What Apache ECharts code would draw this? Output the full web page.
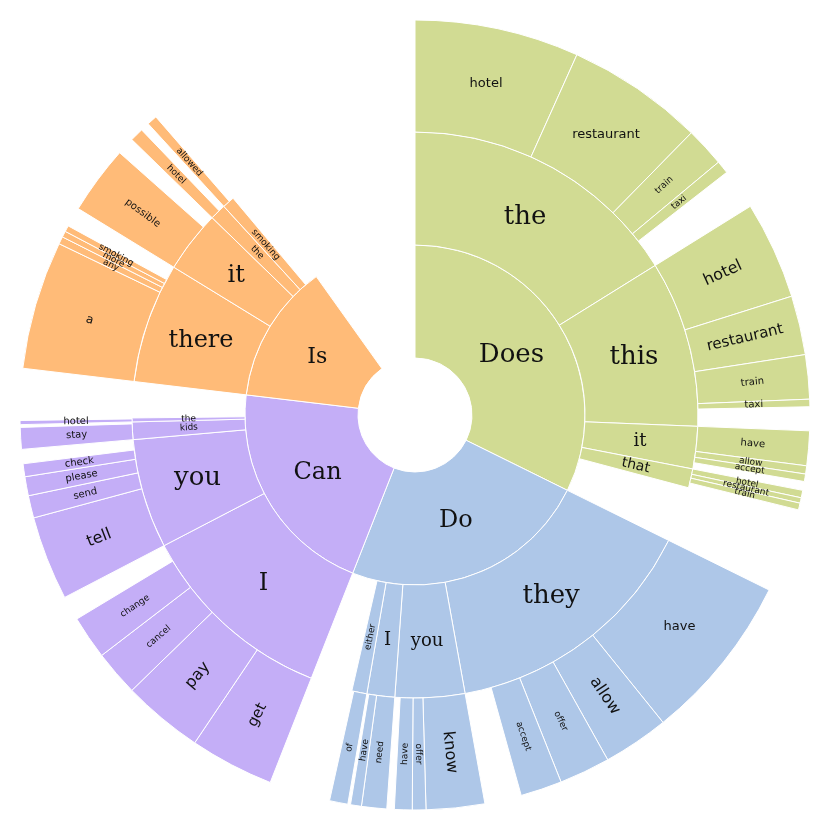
<!DOCTYPE html>
<html>
<head>
<meta charset="utf-8">
<script src="https://cdn.jsdelivr.net/npm/echarts@6/dist/echarts.min.js"></script>
<style>
  html, body { margin: 0; padding: 0; background: #fff; }
  #chart { width: 830px; height: 830px; }
</style>
</head>
<body>
<div id="chart"></div>
<script>
// first words (values read as angular share of the circle)
const roots = ['Does', 'Do', 'Can', 'Is'];
const rootValues = [116.3, 85.2, 75.3, 47.7];
const gapValue = 35.5;

// second words
const doesWords = ['the', 'this', 'it', 'that'];
const doesValues = [58.1, 34.2, 8.7, 3.9];
const doWords = ['they', 'you', 'I', 'either'];
const doValues = [53.5, 14.3, 5.7, 3.1];
const canWords = ['I', 'you', 'kids', 'the'];
const canValues = [41.0, 22.5, 3.6, 0.8];
const isWords = ['there', 'it', 'the', 'smoking'];
const isValues = [24.7, 12.7, 3.3, 2.5];

// third words
const doesTheWords = ['hotel', 'restaurant', 'train', 'taxi'];
const doesTheValues = [24.2, 20.2, 5.8, 1.9];
const doesThisWords = ['hotel', 'restaurant', 'train', 'taxi'];
const doesThisValues = [14.4, 8.7, 6.5, 1.1];
const doesItWords = ['have', 'allow', 'accept'];
const doesItValues = [5.1, 1.2, 1.1];
const doesThatWords = ['hotel', 'restaurant', 'train'];
const doesThatValues = [1.1, 0.8, 1.0];

const doTheyWords = ['have', 'allow', 'offer', 'accept'];
const doTheyValues = [24.8, 9.7, 7.5, 6.1];
const doYouWords = ['know', 'offer', 'have'];
const doYouValues = [8.6, 2.0, 2.6];
const doIWords = ['need', 'have'];
const doIValues = [3.7, 1.6];
const doEitherWords = ['of'];
const doEitherValues = [2.7];

const canIWords = ['get', 'pay', 'cancel', 'change'];
const canIValues = [12.4, 11.9, 6.7, 6.4];
const canYouWords = ['tell', 'send', 'please', 'check'];
const canYouValues = [12.4, 3.3, 2.8, 1.9];
const canKidsWords = ['stay'];
const canKidsValues = [3.2];
const canTheWords = ['hotel'];
const canTheValues = [0.6];

const isThereWords = ['a', 'any', 'more', 'smoking'];
const isThereValues = [18.9, 1.1, 0.9, 0.9];
const isItWords = ['possible'];
const isItValues = [10.1];
const isTheWords = ['hotel'];
const isTheValues = [2.0];
const isSmokingWords = ['allowed'];
const isSmokingValues = [1.5];

const rootColors = ['#d1db93', '#aec7e8', '#c4aef7', '#ffbb78'];

// label sizes (px), everything not listed is 9
const labelSize = {
  'Does': 26, 'Do': 24, 'Can': 24, 'Is': 22,
  'Does/the': 26, 'Does/this': 26, 'Does/it': 18, 'Does/that': 14,
  'Do/they': 26, 'Do/you': 18, 'Do/I': 18,
  'Can/I': 24, 'Can/you': 26,
  'Is/there': 24, 'Is/it': 24,
  'Does/the/hotel': 13, 'Does/the/restaurant': 13,
  'Does/this/hotel': 16, 'Does/this/restaurant': 15, 'Does/this/train': 10, 'Does/this/taxi': 10,
  'Does/it/have': 10,
  'Do/they/have': 13, 'Do/they/allow': 16, 'Do/you/know': 16,
  'Can/I/get': 15, 'Can/I/pay': 16,
  'Can/you/tell': 16, 'Can/you/send': 10, 'Can/you/please': 10, 'Can/you/check': 10,
  'Can/kids/stay': 10, 'Can/the/hotel': 10,
  'Is/there/a': 12, 'Is/it/possible': 10
};
// labels kept horizontal, the rest follow the radius
const flatLabels = [
  'Does', 'Do', 'Can', 'Is',
  'Does/the', 'Does/this', 'Does/it', 'Do/they', 'Do/you', 'Do/I',
  'Can/I', 'Can/you', 'Is/there', 'Is/it',
  'Does/the/hotel', 'Does/the/restaurant', 'Do/they/have'
];

const thirdLevel = {
  'Does/the': [doesTheWords, doesTheValues],
  'Does/this': [doesThisWords, doesThisValues],
  'Does/it': [doesItWords, doesItValues],
  'Does/that': [doesThatWords, doesThatValues],
  'Do/they': [doTheyWords, doTheyValues],
  'Do/you': [doYouWords, doYouValues],
  'Do/I': [doIWords, doIValues],
  'Do/either': [doEitherWords, doEitherValues],
  'Can/I': [canIWords, canIValues],
  'Can/you': [canYouWords, canYouValues],
  'Can/kids': [canKidsWords, canKidsValues],
  'Can/the': [canTheWords, canTheValues],
  'Is/there': [isThereWords, isThereValues],
  'Is/it': [isItWords, isItValues],
  'Is/the': [isTheWords, isTheValues],
  'Is/smoking': [isSmokingWords, isSmokingValues]
};
const secondLevel = {
  'Does': [doesWords, doesValues],
  'Do': [doWords, doValues],
  'Can': [canWords, canValues],
  'Is': [isWords, isValues]
};

function makeNode(name, value, path, color) {
  const size = labelSize[path] || 9;
  const flat = flatLabels.includes(path);
  const node = {
    name: name,
    value: value,
    itemStyle: { color: color },
    label: {
      fontSize: size,
      fontFamily: size >= 18 ? 'DejaVu Serif' : 'DejaVu Sans',
      rotate: flat ? 0 : 'radial',
      offset: flat ? [0, Math.round(size * 0.3)] : [0, 0]
    }
  };
  const kids = secondLevel[path] || thirdLevel[path];
  if (kids) {
    node.children = kids[0].map((w, i) => makeNode(w, kids[1][i], path + '/' + w, color));
  }
  return node;
}

const data = roots.map((r, i) => makeNode(r, rootValues[i], r, rootColors[i]));
// empty share at the end of the circle
data.push({
  name: '',
  value: gapValue,
  itemStyle: { color: 'rgba(0,0,0,0)', borderWidth: 0 },
  label: { show: false },
  emphasis: { disabled: true }
});

const myChart = echarts.init(document.getElementById('chart'));
const option = {
  animation: false,
  series: [
    {
      type: 'sunburst',
      center: ['50%', '50%'],
      sort: null,
      nodeClick: false,
      startAngle: 90,
      data: data,
      itemStyle: {
        borderColor: '#fff',
        borderWidth: 1
      },
      label: {
        color: '#111',
        overflow: 'none',
        minAngle: 0
      },
      levels: [
        {},
        { r0: 57, r: 170 },
        { r0: 170, r: 283 },
        { r0: 283, r: 395 }
      ]
    }
  ]
};
myChart.setOption(option);
</script>
</body>
</html>
